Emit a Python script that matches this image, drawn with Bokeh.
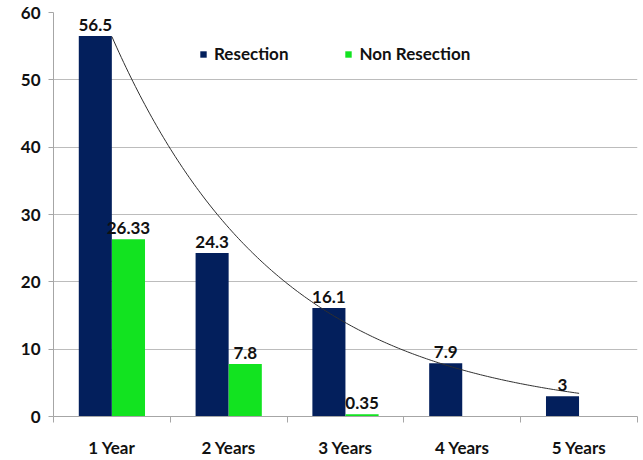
import numpy as np
from bokeh.plotting import figure
from bokeh.core.properties import value
from bokeh.models import (ColumnDataSource, FixedTicker, LabelSet, Legend, LegendItem, Range1d)
from bokeh.embed import file_html
from bokeh.resources import INLINE

# Survival rates (%) by follow-up year
categories = ["1 Year", "2 Years", "3 Years", "4 Years", "5 Years"]
resection = [56.5, 24.3, 16.1, 7.9, 3]
non_resection = [26.33, 7.8, 0.35, None, None]
resection_labels = ["56.5", "24.3", "16.1", "7.9", "3"]
non_resection_labels = ["26.33", "7.8", "0.35", "", ""]

NAVY = "#031f5c"
GREEN = "#12e320"
FONT = "Lato"
TEXT = "#111111"

pos = np.arange(1, len(categories) + 1, dtype=float)
bar_w = 0.283
off = 0.142

p = figure(width=643, height=460, output_backend="svg", toolbar_location=None,
           x_range=Range1d(0.5, 5.5), y_range=Range1d(0, 60),
           min_border_left=53, min_border_right=6, min_border_top=12,
           min_border_bottom=42)
p.outline_line_color = None
p.background_fill_color = "white"
p.border_fill_color = "white"

blue_src = ColumnDataSource(dict(x=pos - off, top=resection, lbl=resection_labels))
nr_x = [x + off for x, v in zip(pos, non_resection) if v is not None]
nr_v = [v for v in non_resection if v is not None]
nr_l = [l for l, v in zip(non_resection_labels, non_resection) if v is not None]
green_src = ColumnDataSource(dict(x=nr_x, top=nr_v, lbl=nr_l))

r_blue = p.vbar(x="x", top="top", width=bar_w, source=blue_src, fill_color=NAVY, line_color=None)
r_green = p.vbar(x="x", top="top", width=bar_w, source=green_src, fill_color=GREEN, line_color=None)

# Exponential trend line fitted to the resection series
b, ln_a = np.polyfit(pos, np.log(resection), 1)
xs = np.linspace(1, 5, 200)
p.line(xs, np.exp(ln_a + b * xs), line_color="#303030", line_width=1)

for src in (blue_src, green_src):
    p.add_layout(LabelSet(x="x", y="top", text="lbl", source=src, text_align="center",
                          text_baseline="bottom", y_offset=5, text_font=value(FONT),
                          text_font_style="bold", text_font_size="17px", text_color=TEXT))

# Axes
p.yaxis.ticker = FixedTicker(ticks=[0, 10, 20, 30, 40, 50, 60])
p.yaxis.axis_line_color = "#a6a6a6"
p.yaxis.major_tick_line_color = "#a6a6a6"
p.yaxis.major_tick_out = 5
p.yaxis.major_tick_in = 0
p.yaxis.minor_tick_line_color = None
p.yaxis.major_label_standoff = 8
p.yaxis.major_label_text_font = FONT
p.yaxis.major_label_text_font_style = "bold"
p.yaxis.major_label_text_font_size = "17px"
p.yaxis.major_label_text_color = TEXT

p.xaxis.ticker = FixedTicker(ticks=list(pos), minor_ticks=list(np.arange(0.5, 6.0, 1.0)))
p.xaxis.major_label_overrides = {float(x): c for x, c in zip(pos, categories)}
p.xaxis.major_label_overrides.update({int(x): c for x, c in zip(pos, categories)})
p.xaxis.axis_line_color = "#a6a6a6"
p.xaxis.major_tick_line_color = None
p.xaxis.minor_tick_line_color = "#a6a6a6"
p.xaxis.minor_tick_out = 6
p.xaxis.minor_tick_in = 0
p.xaxis.major_label_standoff = 14
p.xaxis.major_label_text_font = FONT
p.xaxis.major_label_text_font_style = "bold"
p.xaxis.major_label_text_font_size = "17px"
p.xaxis.major_label_text_color = TEXT

p.xgrid.grid_line_color = None
p.ygrid.ticker = FixedTicker(ticks=[10, 20, 30, 40, 50, 60])
p.ygrid.grid_line_color = "#bcbcbc"
p.ygrid.grid_line_width = 1

legend = Legend(items=[LegendItem(label="Resection", renderers=[r_blue]),
                       LegendItem(label="Non Resection", renderers=[r_green])],
                orientation="horizontal", location=(146, 352), padding=0, margin=0,
                spacing=56, glyph_width=8, glyph_height=8, label_standoff=7,
                label_text_font=FONT, label_text_font_style="bold",
                label_text_font_size="17px", label_text_color=TEXT,
                border_line_color=None, background_fill_alpha=0)
p.add_layout(legend, "center")

open("out.html", "w").write(file_html(p, INLINE))
